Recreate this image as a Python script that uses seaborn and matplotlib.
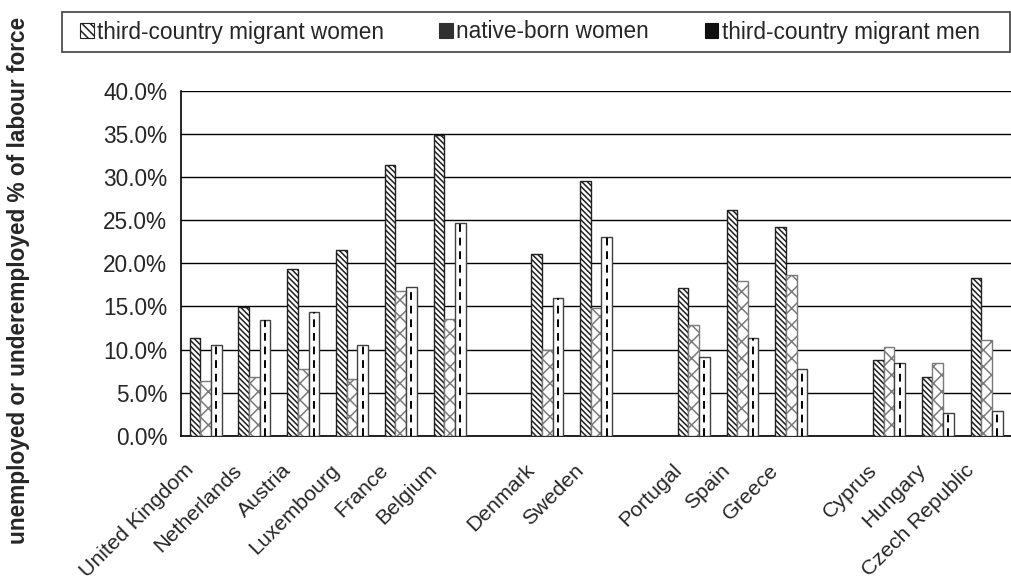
import matplotlib
matplotlib.use("Agg")
import matplotlib.pyplot as plt
import matplotlib.transforms as mtransforms
from matplotlib.patches import Patch, Rectangle
from matplotlib.ticker import PercentFormatter, MultipleLocator
import numpy as np
import pandas as pd
import seaborn as sns

# Country groups, separated by empty slots on the category axis
countries = ["United Kingdom", "Netherlands", "Austria", "Luxembourg", "France", "Belgium",
             " ", "Denmark", "Sweden", "  ", "Portugal", "Spain", "Greece", "   ",
             "Cyprus", "Hungary", "Czech Republic"]
plotted = ["United Kingdom", "Netherlands", "Austria", "Luxembourg", "France", "Belgium",
           "Denmark", "Sweden", "Portugal", "Spain", "Greece",
           "Cyprus", "Hungary", "Czech Republic"]

series = ["third-country migrant women", "native-born women", "third-country migrant men"]

# unemployed or underemployed, % of labour force
migrant_women = [11.3, 14.9, 19.3, 21.6, 31.4, 34.9, 21.1, 29.6, 17.2, 26.2, 24.2, 8.8, 6.8, 18.3]
native_women = [6.4, 6.8, 7.8, 6.6, 16.8, 13.6, 10.0, 14.8, 12.9, 17.9, 18.7, 10.3, 8.5, 11.1]
migrant_men = [10.5, 13.4, 14.4, 10.5, 17.3, 24.7, 16.0, 23.1, 9.2, 11.3, 7.8, 8.4, 2.7, 2.9]

df = pd.DataFrame({
    "country": plotted * 3,
    "group": np.repeat(series, len(plotted)),
    "value": migrant_women + native_women + migrant_men,
})

sns.set_style("white")
plt.rcParams["font.family"] = ["Liberation Sans", "DejaVu Sans"]
plt.rcParams["hatch.linewidth"] = 1.1

FS = 16.3

fig = plt.figure(figsize=(10.12, 5.82), dpi=100)
ax = fig.add_axes([0.179, 0.251, 0.820, 0.593])

sns.barplot(data=df, x="country", y="value", hue="group", order=countries,
            hue_order=series, palette=["white"] * 3, width=0.655, gap=0,
            edgecolor="#404040", linewidth=1.0, legend=False, ax=ax, zorder=3)

hatches = ["\\\\\\\\\\\\", "xx", ""]
edge_cols = ["#202020", "#7a7a7a", "#404040"]
for cont, h, ec in zip(ax.containers, hatches, edge_cols):
    for p in cont.patches:
        p.set_hatch(h)
        p.set_edgecolor(ec)

# dashed centre line on the migrant men bars
for p in ax.containers[2].patches:
    cx = p.get_x() + p.get_width() / 2
    ax.vlines(cx, 0, p.get_height(), colors="black", linestyles=(0, (4, 3)),
              linewidth=1.4, zorder=4)

ax.set_ylim(0, 40)
ax.set_xlim(-0.5, len(countries) - 0.5)
ax.yaxis.set_major_locator(MultipleLocator(5))
ax.yaxis.set_major_formatter(PercentFormatter(100, decimals=1))
ax.grid(axis="y", color="black", linewidth=1.0, zorder=0)
ax.set_axisbelow(True)

for side in ["top", "right"]:
    ax.spines[side].set_visible(False)
for side in ["left", "bottom"]:
    ax.spines[side].set_color("black")
    ax.spines[side].set_linewidth(1.2)

ax.set_xticks(np.arange(len(countries) + 1) - 0.5, minor=True)
ax.tick_params(axis="x", which="minor", length=7, width=1.2, color="black", direction="out")
ax.tick_params(axis="x", which="major", length=0, pad=4)
ax.tick_params(axis="y", length=7, width=1.2, color="black", direction="out",
               labelsize=FS, pad=3)
ax.set_xticks(np.arange(len(countries)))
ax.set_xticklabels(countries, rotation=45, ha="right", rotation_mode="anchor", fontsize=15.4)
offset = mtransforms.ScaledTranslation(-22 / 100, -19 / 100, fig.dpi_scale_trans)
for lbl in ax.get_xticklabels():
    lbl.set_transform(lbl.get_transform() + offset)

ax.set_xlabel("")
ax.set_ylabel("")
fig.text(0.018, 0.519, "unemployed or underemployed % of labour force", rotation=90,
         ha="center", va="center", fontsize=FS, fontweight="bold")

# legend box across the top of the figure
fig.patches.append(Rectangle((62 / 1012, 1 - 52 / 582), 948 / 1012, 40 / 582,
                             transform=fig.transFigure, facecolor="white",
                             edgecolor="#404040", linewidth=1.2, zorder=0))
handles = [
    Patch(facecolor="white", edgecolor="#202020", hatch="\\\\\\\\", linewidth=0.8),
    Patch(facecolor="#303030", edgecolor="#303030", hatch="", linewidth=0.8),
    Patch(facecolor="#101010", edgecolor="#101010", hatch="", linewidth=0.8),
]
leg = fig.legend(handles, series, loc="center left", ncol=3,
                 bbox_to_anchor=(80 / 1012, 1 - 32 / 582), fontsize=FS,
                 frameon=False, handlelength=0.6, handleheight=0.6, handletextpad=0.15,
                 columnspacing=2.45, borderaxespad=0, borderpad=0)

fig.savefig("out.png", dpi=100)
